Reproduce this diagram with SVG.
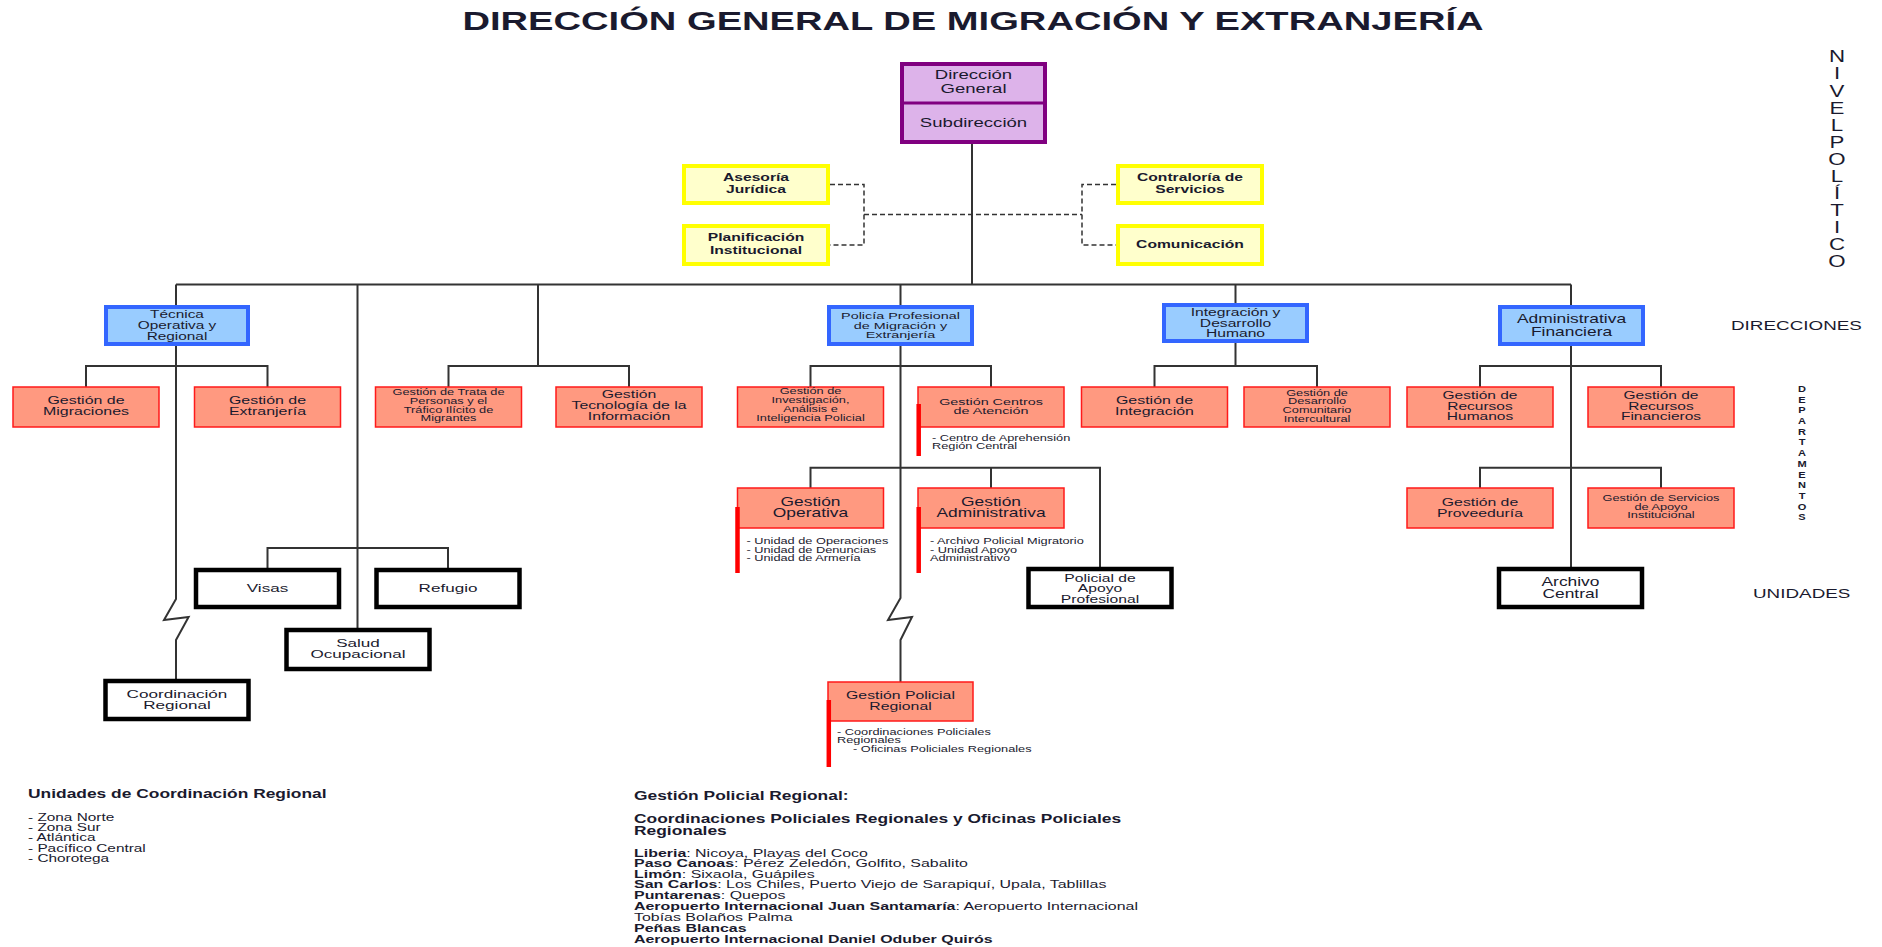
<svg xmlns="http://www.w3.org/2000/svg" width="1882" height="947" viewBox="0 0 1882 947">
<style>
.t{font-family:"Liberation Sans",Arial,sans-serif;fill:#1a1a2e;text-anchor:middle}
.l{text-anchor:start}
.b{font-weight:bold}
.conn{stroke:#333;stroke-width:2;fill:none}
.dash{stroke:#333;stroke-width:1.5;fill:none;stroke-dasharray:5 3}
.purple{fill:#DDB3EA;stroke:#800080;stroke-width:4}
.yellow{fill:#FFFFCC;stroke:#FFFF00;stroke-width:4}
.blue{fill:#99CCFF;stroke:#3366FF;stroke-width:4}
.red{fill:#FF9980;stroke:#FF1A1A;stroke-width:1.5}
.unit{fill:#fff;stroke:#000;stroke-width:4.5}
.bar{stroke:#FF0000;stroke-width:4.5}
</style>
<rect width="1882" height="947" fill="#fff"/>
<text class="t b" font-size="26.3" transform="translate(973,0) scale(1.45,1)" x="0" y="30">DIRECCIÓN GENERAL DE MIGRACIÓN Y EXTRANJERÍA</text>

<g id="connectors">
<path class="conn" d="M972,144V284.5M176,284.5H1571"/>
<path class="dash" d="M830,184.5H864V245H830M864,214.5H1082M1116,184.5H1082V245H1116"/>
<path class="conn" d="M176,284.5V305M176,346V599L164,620L188.6,617L176,640V681M86,387V366H267.5V387"/>
<path class="conn" d="M357.5,284.5V630M267.5,570V548H448V570"/>
<path class="conn" d="M538,284.5V366M448.5,387V366H629V387"/>
<path class="conn" d="M900.5,284.5V305M900.5,346V598L888,620L912,617L900.5,640V682M810.5,387V366H991V387M810.5,488V467.7H1100V569M991,467.7V488"/>
<path class="conn" d="M1235.5,284.5V303M1235.5,343V366M1154.5,387V366H1317V387"/>
<path class="conn" d="M1571,284.5V305M1571,346V569M1480,387V366H1661V387M1480,488V467.7H1661V488"/>
</g>

<g id="n-direccion">
<rect class="purple" x="902" y="64" width="143" height="78"/>
<line x1="902" y1="103" x2="1045" y2="103" stroke="#800080" stroke-width="3"/>
<text class="t" font-size="12.8" transform="translate(973.5,0) scale(1.45,1)"><tspan x="0" y="79">Dirección</tspan><tspan x="0" y="93">General</tspan><tspan x="0" y="127">Subdirección</tspan></text>
</g>

<g id="n-asesoria">
<rect class="yellow" x="684" y="166" width="144" height="37"/>
<text class="t b" font-size="10.8" transform="translate(756,0) scale(1.45,1)"><tspan x="0" y="181.5">Asesoría</tspan><tspan x="0" y="193">Jurídica</tspan></text>
</g>
<g id="n-planificacion">
<rect class="yellow" x="684" y="226" width="144" height="38"/>
<text class="t b" font-size="10.8" transform="translate(756,0) scale(1.45,1)"><tspan x="0" y="241.5">Planificación</tspan><tspan x="0" y="254">Institucional</tspan></text>
</g>
<g id="n-contraloria">
<rect class="yellow" x="1118" y="166" width="144" height="37"/>
<text class="t b" font-size="10.8" transform="translate(1190,0) scale(1.45,1)"><tspan x="0" y="181.5">Contraloría de</tspan><tspan x="0" y="193">Servicios</tspan></text>
</g>
<g id="n-comunicacion">
<rect class="yellow" x="1118" y="226" width="144" height="38"/>
<text class="t b" font-size="10.8" transform="translate(1190,0) scale(1.45,1)"><tspan x="0" y="248.5">Comunicación</tspan></text>
</g>

<g id="n-tecnica">
<rect class="blue" x="106" y="307" width="142" height="37"/>
<text class="t" font-size="10.6" transform="translate(177,0) scale(1.45,1)"><tspan x="0" y="318">Técnica</tspan><tspan x="0" y="329">Operativa y</tspan><tspan x="0" y="340">Regional</tspan></text>
</g>
<g id="n-policia">
<rect class="blue" x="829" y="307" width="143" height="37"/>
<text class="t" font-size="9.9" transform="translate(900.5,0) scale(1.45,1)"><tspan x="0" y="319">Policía Profesional</tspan><tspan x="0" y="329">de Migración y</tspan><tspan x="0" y="338.5">Extranjería</tspan></text>
</g>
<g id="n-integracion">
<rect class="blue" x="1164" y="305" width="143" height="36"/>
<text class="t" font-size="10.8" transform="translate(1235.5,0) scale(1.45,1)"><tspan x="0" y="316.5">Integración y</tspan><tspan x="0" y="327">Desarrollo</tspan><tspan x="0" y="337">Humano</tspan></text>
</g>
<g id="n-administrativa">
<rect class="blue" x="1500" y="307" width="143" height="37"/>
<text class="t" font-size="12" transform="translate(1571.5,0) scale(1.45,1)"><tspan x="0" y="323.5">Administrativa</tspan><tspan x="0" y="336">Financiera</tspan></text>
</g>

<g id="n-migraciones">
<rect class="red" x="13" y="387" width="146" height="40"/>
<text class="t" font-size="11" transform="translate(86,0) scale(1.45,1)"><tspan x="0" y="404">Gestión de</tspan><tspan x="0" y="415.5">Migraciones</tspan></text>
</g>
<g id="n-extranjeria">
<rect class="red" x="194.5" y="387" width="146" height="40"/>
<text class="t" font-size="11" transform="translate(267.5,0) scale(1.45,1)"><tspan x="0" y="404">Gestión de</tspan><tspan x="0" y="415.5">Extranjería</tspan></text>
</g>
<g id="n-trata">
<rect class="red" x="375.5" y="387" width="146" height="40"/>
<text class="t" font-size="8.8" transform="translate(448.5,0) scale(1.45,1)"><tspan x="0" y="395.5">Gestión de Trata de</tspan><tspan x="0" y="404.5">Personas y el</tspan><tspan x="0" y="413">Tráfico Ilícito de</tspan><tspan x="0" y="421.5">Migrantes</tspan></text>
</g>
<g id="n-tecnologia">
<rect class="red" x="556" y="387" width="146" height="40"/>
<text class="t" font-size="10.9" transform="translate(629,0) scale(1.45,1)"><tspan x="0" y="398.5">Gestión</tspan><tspan x="0" y="409.5">Tecnología de la</tspan><tspan x="0" y="420">Información</tspan></text>
</g>
<g id="n-investigacion">
<rect class="red" x="737.5" y="387" width="146" height="40"/>
<text class="t" font-size="8.8" transform="translate(810.5,0) scale(1.45,1)"><tspan x="0" y="394.5">Gestión de</tspan><tspan x="0" y="403.5">Investigación,</tspan><tspan x="0" y="412.5">Análisis e</tspan><tspan x="0" y="421">Inteligencia Policial</tspan></text>
</g>
<g id="n-centros">
<rect class="red" x="918" y="387" width="146" height="40"/>
<text class="t" font-size="9.9" transform="translate(991,0) scale(1.45,1)"><tspan x="0" y="405">Gestión Centros</tspan><tspan x="0" y="414.5">de Atención</tspan></text>
<line class="bar" x1="918.7" y1="404" x2="918.7" y2="456"/>
<text class="t l" font-size="8.8" transform="translate(932,0) scale(1.45,1)"><tspan x="0" y="441">- Centro de Aprehensión</tspan><tspan x="0" y="449.5">Región Central</tspan></text>
</g>
<g id="n-gintegracion">
<rect class="red" x="1081.5" y="387" width="146" height="40"/>
<text class="t" font-size="11" transform="translate(1154.5,0) scale(1.45,1)"><tspan x="0" y="404">Gestión de</tspan><tspan x="0" y="415">Integración</tspan></text>
</g>
<g id="n-comunitario">
<rect class="red" x="1244" y="387" width="146" height="40"/>
<text class="t" font-size="8.8" transform="translate(1317,0) scale(1.45,1)"><tspan x="0" y="396">Gestión de</tspan><tspan x="0" y="404.5">Desarrollo</tspan><tspan x="0" y="413.5">Comunitario</tspan><tspan x="0" y="421.8">Intercultural</tspan></text>
</g>
<g id="n-rrhh">
<rect class="red" x="1407" y="387" width="146" height="40"/>
<text class="t" font-size="10.7" transform="translate(1480,0) scale(1.45,1)"><tspan x="0" y="399">Gestión de</tspan><tspan x="0" y="410">Recursos</tspan><tspan x="0" y="420.5">Humanos</tspan></text>
</g>
<g id="n-rrff">
<rect class="red" x="1588" y="387" width="146" height="40"/>
<text class="t" font-size="10.7" transform="translate(1661,0) scale(1.45,1)"><tspan x="0" y="399">Gestión de</tspan><tspan x="0" y="410">Recursos</tspan><tspan x="0" y="420.5">Financieros</tspan></text>
</g>

<g id="n-operativa">
<rect class="red" x="737.5" y="488" width="146" height="40"/>
<text class="t" font-size="12" transform="translate(810.5,0) scale(1.45,1)"><tspan x="0" y="506">Gestión</tspan><tspan x="0" y="517">Operativa</tspan></text>
<line class="bar" x1="737.5" y1="507" x2="737.5" y2="573"/>
<text class="t l" font-size="8.8" transform="translate(746.5,0) scale(1.45,1)"><tspan x="0" y="544.5">- Unidad de Operaciones</tspan><tspan x="0" y="553">- Unidad de Denuncias</tspan><tspan x="0" y="561.5">- Unidad de Armería</tspan></text>
</g>
<g id="n-gadministrativa">
<rect class="red" x="918" y="488" width="146" height="40"/>
<text class="t" font-size="12" transform="translate(991,0) scale(1.45,1)"><tspan x="0" y="506">Gestión</tspan><tspan x="0" y="517">Administrativa</tspan></text>
<line class="bar" x1="918.7" y1="507" x2="918.7" y2="573"/>
<text class="t l" font-size="8.8" transform="translate(930,0) scale(1.45,1)"><tspan x="0" y="544.5">- Archivo Policial Migratorio</tspan><tspan x="0" y="553">- Unidad Apoyo</tspan><tspan x="0" y="561.5">Administrativo</tspan></text>
</g>
<g id="n-proveeduria">
<rect class="red" x="1407" y="488" width="146" height="40"/>
<text class="t" font-size="10.9" transform="translate(1480,0) scale(1.45,1)"><tspan x="0" y="506.5">Gestión de</tspan><tspan x="0" y="517">Proveeduría</tspan></text>
</g>
<g id="n-servicios">
<rect class="red" x="1588" y="488" width="146" height="40"/>
<text class="t" font-size="8.8" transform="translate(1661,0) scale(1.45,1)"><tspan x="0" y="501">Gestión de Servicios</tspan><tspan x="0" y="510">de Apoyo</tspan><tspan x="0" y="518.5">Institucional</tspan></text>
</g>
<g id="n-policialregional">
<rect class="red" x="828" y="682" width="145" height="39"/>
<text class="t" font-size="10.9" transform="translate(900.5,0) scale(1.45,1)"><tspan x="0" y="699.5">Gestión Policial</tspan><tspan x="0" y="710.5">Regional</tspan></text>
<line class="bar" x1="828.8" y1="700" x2="828.8" y2="767"/>
<text class="t l" font-size="8.8" transform="translate(837,0) scale(1.45,1)"><tspan x="0" y="735">- Coordinaciones Policiales</tspan><tspan x="0" y="743.5">Regionales</tspan><tspan x="11" y="752">- Oficinas Policiales Regionales</tspan></text>
</g>

<g id="n-visas">
<rect class="unit" x="196" y="570" width="143" height="37"/>
<text class="t" font-size="11.8" transform="translate(267.5,0) scale(1.45,1)"><tspan x="0" y="592.5">Visas</tspan></text>
</g>
<g id="n-refugio">
<rect class="unit" x="376.5" y="570" width="143" height="37"/>
<text class="t" font-size="11.8" transform="translate(448,0) scale(1.45,1)"><tspan x="0" y="592.5">Refugio</tspan></text>
</g>
<g id="n-salud">
<rect class="unit" x="286.5" y="630" width="143" height="39"/>
<text class="t" font-size="11.8" transform="translate(358,0) scale(1.45,1)"><tspan x="0" y="647">Salud</tspan><tspan x="0" y="658.5">Ocupacional</tspan></text>
</g>
<g id="n-coordinacion">
<rect class="unit" x="105.5" y="681" width="143" height="38"/>
<text class="t" font-size="11.8" transform="translate(177,0) scale(1.45,1)"><tspan x="0" y="698">Coordinación</tspan><tspan x="0" y="709.5">Regional</tspan></text>
</g>
<g id="n-apoyoprofesional">
<rect class="unit" x="1028.5" y="569" width="143" height="38"/>
<text class="t" font-size="10.8" transform="translate(1100,0) scale(1.45,1)"><tspan x="0" y="582">Policial de</tspan><tspan x="0" y="592.5">Apoyo</tspan><tspan x="0" y="603">Profesional</tspan></text>
</g>
<g id="n-archivo">
<rect class="unit" x="1499" y="569" width="143" height="38"/>
<text class="t" font-size="12" transform="translate(1570.5,0) scale(1.45,1)"><tspan x="0" y="586.5">Archivo</tspan><tspan x="0" y="598.5">Central</tspan></text>
</g>

<g id="levels">
<text class="t" font-size="16.5" transform="translate(1837,0) scale(1.35,1)"><tspan x="0" y="62.4">N</tspan><tspan x="0" y="79.5">I</tspan><tspan x="0" y="96.6">V</tspan><tspan x="0" y="113.6">E</tspan><tspan x="0" y="130.7">L</tspan><tspan x="0" y="147.8">P</tspan><tspan x="0" y="164.9">O</tspan><tspan x="0" y="182">L</tspan><tspan x="0" y="199">Í</tspan><tspan x="0" y="216.1">T</tspan><tspan x="0" y="233.2">I</tspan><tspan x="0" y="250.3">C</tspan><tspan x="0" y="267.4">O</tspan></text>
<text class="t l" font-size="13" transform="translate(1731,0) scale(1.45,1)" x="0" y="330">DIRECCIONES</text>
<text class="t b" font-size="8.5" transform="translate(1802,0) scale(1.3,1)"><tspan x="0" y="392">D</tspan><tspan x="0" y="402.7">E</tspan><tspan x="0" y="413.4">P</tspan><tspan x="0" y="424.1">A</tspan><tspan x="0" y="434.8">R</tspan><tspan x="0" y="445.5">T</tspan><tspan x="0" y="456.2">A</tspan><tspan x="0" y="466.9">M</tspan><tspan x="0" y="477.6">E</tspan><tspan x="0" y="488.3">N</tspan><tspan x="0" y="499">T</tspan><tspan x="0" y="509.7">O</tspan><tspan x="0" y="520.4">S</tspan></text>
<text class="t l" font-size="13" transform="translate(1753,0) scale(1.45,1)" x="0" y="598">UNIDADES</text>
</g>

<g id="notes-coordinacion">
<text class="t l b" font-size="12" transform="translate(28,0) scale(1.45,1)" x="0" y="798">Unidades de Coordinación Regional</text>
<text class="t l" font-size="10.6" transform="translate(28,0) scale(1.45,1)"><tspan x="0" y="821">- Zona Norte</tspan><tspan x="0" y="831">- Zona Sur</tspan><tspan x="0" y="841.5">- Atlántica</tspan><tspan x="0" y="852">- Pacífico Central</tspan><tspan x="0" y="862.5">- Chorotega</tspan></text>
</g>

<g id="notes-policial">
<text class="t l b" font-size="12" transform="translate(634,0) scale(1.45,1)"><tspan x="0" y="800">Gestión Policial Regional:</tspan><tspan x="0" y="823.5">Coordinaciones Policiales Regionales y Oficinas Policiales</tspan><tspan x="0" y="835">Regionales</tspan></text>
<text class="t l" font-size="11" transform="translate(634,0) scale(1.45,1)"><tspan x="0" y="857"><tspan class="b">Liberia</tspan>: Nicoya, Playas del Coco</tspan><tspan x="0" y="867.5"><tspan class="b">Paso Canoas</tspan>: Pérez Zeledón, Golfito, Sabalito</tspan><tspan x="0" y="878"><tspan class="b">Limón</tspan>: Sixaola, Guápiles</tspan><tspan x="0" y="888.5"><tspan class="b">San Carlos</tspan>: Los Chiles, Puerto Viejo de Sarapiquí, Upala, Tablillas</tspan><tspan x="0" y="899.5"><tspan class="b">Puntarenas</tspan>: Quepos</tspan><tspan x="0" y="910"><tspan class="b">Aeropuerto Internacional Juan Santamaría</tspan>: Aeropuerto Internacional</tspan><tspan x="0" y="921">Tobías Bolaños Palma</tspan><tspan x="0" y="932" class="b">Peñas Blancas</tspan><tspan x="0" y="943" class="b">Aeropuerto Internacional Daniel Oduber Quirós</tspan></text>
</g>
</svg>
